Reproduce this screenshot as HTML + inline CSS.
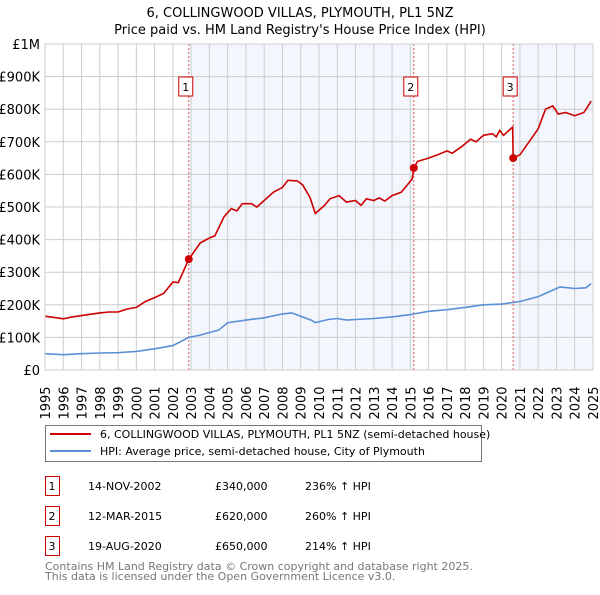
<!DOCTYPE html>
<html><head><meta charset="utf-8"><style>
body{margin:0;background:#fff;font-family:"Liberation Sans","DejaVu Sans",sans-serif;}
svg text{font-family:"DejaVu Sans","Liberation Sans",sans-serif;}
</style></head><body>
<svg id="c" width="600" height="590" viewBox="0 0 600 590">
<text x="300" y="17" text-anchor="middle" font-size="13" fill="#000">6, COLLINGWOOD VILLAS, PLYMOUTH, PL1 5NZ</text>
<text x="300" y="34" text-anchor="middle" font-size="13" fill="#000">Price paid vs. HM Land Registry's House Price Index (HPI)</text>
<g id="shade"></g><g id="grid"></g><g id="series"></g><g id="axes"></g>
<g>
<rect x="45.5" y="425.5" width="436" height="36" fill="#fff" stroke="#777"/>
<line x1="50" y1="434" x2="91" y2="434" stroke="#cc0000" stroke-width="2"/>
<text x="100" y="438" font-size="11">6, COLLINGWOOD VILLAS, PLYMOUTH, PL1 5NZ (semi-detached house)</text>
<line x1="50" y1="451" x2="91" y2="451" stroke="#5b8fd6" stroke-width="2"/>
<text x="100" y="455" font-size="11">HPI: Average price, semi-detached house, City of Plymouth</text>
</g>
<g id="table" font-size="11"></g>
<text x="45" y="570" font-size="11" fill="#777">Contains HM Land Registry data © Crown copyright and database right 2025.</text>
<text x="45" y="580" font-size="11" fill="#777">This data is licensed under the Open Government Licence v3.0.</text>
</svg>
<script>
const yTicks=[0,100000,200000,300000,400000,500000,600000,700000,800000,900000,1000000];
const yTickLabels=["£0","£100K","£200K","£300K","£400K","£500K","£600K","£700K","£800K","£900K","£1M"];
const xYears=[1995,1996,1997,1998,1999,2000,2001,2002,2003,2004,2005,2006,2007,2008,2009,2010,2011,2012,2013,2014,2015,2016,2017,2018,2019,2020,2021,2022,2023,2024,2025];
const redT=[1995,1996,1996.5,1997,1998,1998.5,1999,1999.5,2000,2000.5,2001,2001.5,2002,2002.3,2002.87,2003.5,2004,2004.3,2004.8,2005.2,2005.5,2005.8,2006.3,2006.6,2007,2007.5,2008,2008.3,2008.8,2009.1,2009.5,2009.8,2010.3,2010.6,2011.1,2011.5,2012,2012.3,2012.6,2013,2013.3,2013.6,2014,2014.5,2015.1,2015.19,2015.4,2016,2016.5,2017,2017.3,2017.8,2018.3,2018.6,2019,2019.5,2019.7,2019.9,2020.1,2020.6,2020.63,2021,2021.5,2022,2022.4,2022.8,2023.1,2023.5,2024,2024.5,2024.9];
const redV=[165,157,163,167,175,178,178,187,192,210,222,235,270,268,340,390,405,412,470,495,488,510,510,500,520,545,560,582,580,568,530,480,505,525,535,515,520,505,525,520,528,518,535,545,586,620,640,650,660,672,665,685,708,700,720,725,715,735,720,745,650,660,700,740,800,810,785,790,780,790,825];
const blueT=[1995,1996,1997,1998,1999,2000,2001,2002,2002.87,2003.5,2004,2004.5,2005,2006,2007,2008,2008.5,2009,2009.6,2009.8,2010.5,2011,2011.5,2012,2013,2014,2015,2016,2017,2018,2019,2020,2021,2022,2022.8,2023.2,2024,2024.6,2024.9];
const blueV=[50,47,50,52,53,57,65,75,100,107,115,122,145,153,160,172,175,165,152,145,155,158,153,155,158,163,170,180,185,192,200,202,210,225,245,255,250,252,265];
const saleT=[2002.87,2015.19,2020.63];
const saleV=[340,620,650];
const saleDates=["14-NOV-2002","12-MAR-2015","19-AUG-2020"];
const salePrices=["£340,000","£620,000","£650,000"];
const saleHpi=["236% ↑ HPI","260% ↑ HPI","214% ↑ HPI"];
const X0=45,X1=593,Y0=370,Y1=44;
const xs=t=>X0+(t-1995)/30*(X1-X0);
const ys=v=>Y0-v/1000000*(Y0-Y1);
const NS="http://www.w3.org/2000/svg";
function mk(p,tag,a){const e=document.createElementNS(NS,tag);for(const k in a)e.setAttribute(k,a[k]);p.appendChild(e);return e;}
const shade=document.getElementById('shade'),grid=document.getElementById('grid'),ser=document.getElementById('series'),ax=document.getElementById('axes'),tb=document.getElementById('table');
let r=mk(shade,'rect',{x:X0,y:Y1,width:X1-X0,height:Y0-Y1,fill:'#fff'});


r=mk(shade,'rect',{x:xs(saleT[0]),y:Y1,width:xs(saleT[1])-xs(saleT[0]),height:Y0-Y1,fill:'#eef3fc',opacity:0.7});


r=mk(shade,'rect',{x:xs(saleT[2]),y:Y1,width:X1-xs(saleT[2]),height:Y0-Y1,fill:'#eef3fc',opacity:0.7});


yTicks.forEach((v,i)=>{const l=mk(grid,'line',{x1:X0,x2:X1,y1:ys(v),y2:ys(v),stroke:'#ccc','stroke-width':1});


const t=mk(ax,'text',{x:40,y:ys(v)+5,'text-anchor':'end','font-size':13});t.textContent=yTickLabels[i];

});
xYears.forEach(y=>{const l=mk(grid,'line',{x1:xs(y),x2:xs(y),y1:Y1,y2:Y0,stroke:'#ccc','stroke-width':1});


const t=mk(ax,'text',{x:0,y:0,'font-size':13,transform:`translate(${xs(y)+5},${Y0+33}) rotate(-90)`,'text-anchor':'middle'});t.textContent=y;

});
saleT.forEach((t,i)=>{const l=mk(ser,'line',{x1:xs(t),x2:xs(t),y1:Y1,y2:Y0,stroke:'#e05555','stroke-width':1,'stroke-dasharray':'2,2'});


const b=mk(ser,'rect',{x:xs(t)-10,y:77,width:14,height:19,fill:'#fff',stroke:'#cc0000'});


const tx=mk(ser,'text',{x:xs(t)-3,y:91,'text-anchor':'middle','font-size':11});tx.textContent=String(i+1);

});
function path(T,V,col,name){const d=T.map((t,i)=>(i?'L':'M')+xs(t).toFixed(1)+','+ys(V[i]*1000).toFixed(1)).join('');
const p=mk(ser,'path',{d,fill:'none',stroke:col,'stroke-width':1.6});

}
path(blueT,blueV,'#5b8fd6','hpi-line');
path(redT,redV,'#cc0000','property-price-line');
saleT.forEach((t,i)=>{const c=mk(ser,'circle',{cx:xs(t),cy:ys(saleV[i]*1000),r:4,fill:'#cc0000'});

});
const b=mk(ax,'rect',{x:X0,y:Y1,width:X1-X0,height:Y0-Y1,fill:'none',stroke:'#ccc'});


saleT.forEach((t,i)=>{const y0=476+i*30;
const bx=mk(tb,'rect',{x:45.5,y:y0+0.5,width:14,height:19,fill:'#fff',stroke:'#cc0000'});


const cells=[[52,String(i+1),'middle'],[88,saleDates[i],'start'],[215,salePrices[i],'start'],[305,saleHpi[i],'start']];
cells.forEach(c=>{const e=mk(tb,'text',{x:c[0],y:y0+14,'text-anchor':c[2],'font-size':11});e.textContent=c[1];

});});
</script>
</body></html>
